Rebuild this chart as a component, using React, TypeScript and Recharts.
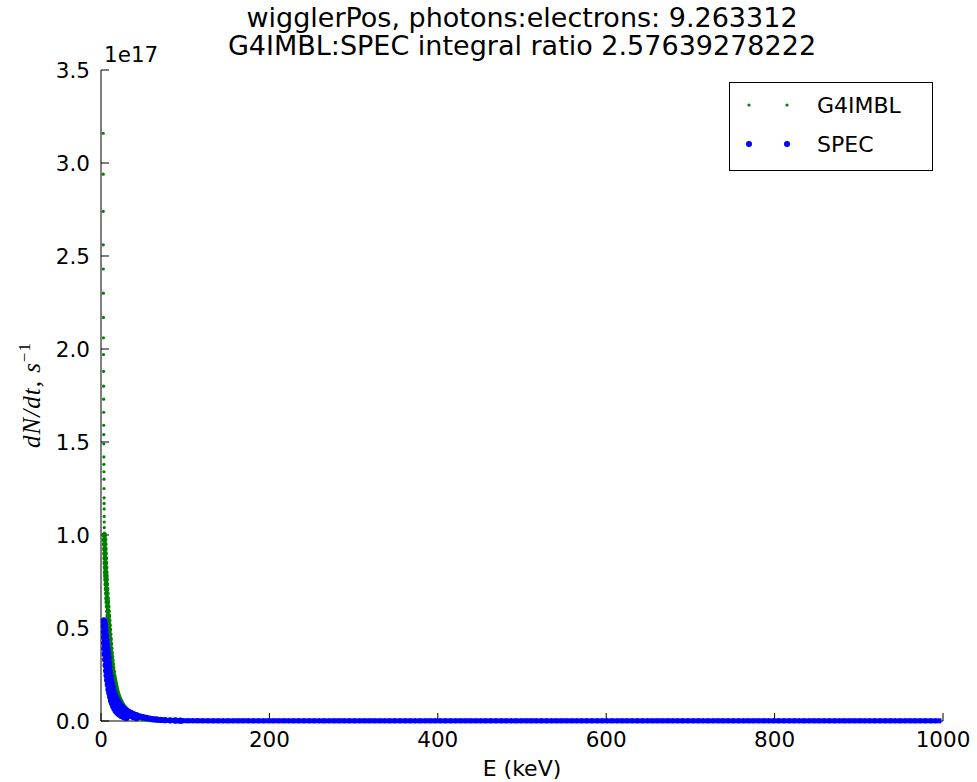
import { ScatterChart, Scatter, XAxis, YAxis, Legend } from 'recharts';

// flux values are in units of 1e17 photons/s (matches the "1e17" offset label)
const g4TopEnergy = [
  2.6, 2.65, 2.7, 2.75, 2.8, 2.85, 2.9, 2.95, 3.0, 3.05, 3.1, 3.15, 3.2, 3.25,
  3.3, 3.35, 3.4, 3.45, 3.5, 3.55, 3.6, 3.65, 3.7, 3.75, 3.8, 3.85, 3.9, 3.95,
];
const g4TopFlux = [
  3.16, 2.94, 2.74, 2.56, 2.43, 2.3, 2.17, 2.06, 1.97, 1.88, 1.8, 1.73, 1.66, 1.59,
  1.54, 1.49, 1.42, 1.38, 1.34, 1.3, 1.25, 1.2, 1.17, 1.14, 1.1, 1.07, 1.04, 1.01,
];

const g4Energy = [
  4.0, 4.2, 4.4, 4.6, 4.8, 5.0, 5.2, 5.4, 5.6, 5.8, 6.0, 6.3, 6.6, 6.9, 7.2, 7.5,
  7.9, 8.3, 8.7, 9.1, 9.5, 9.9, 10.3, 10.7, 11.1, 11.5, 11.9, 12.3, 12.8, 13.3,
  13.8, 14.4, 15.0, 15.6, 16.2, 16.9, 17.6, 18.3, 19.1, 19.9, 20.8, 21.7, 22.7,
  23.8, 25.0, 26.2, 27.5, 28.8, 30.2, 31.8, 33.5, 35.3, 37.3, 39.5, 42, 45, 48,
  51, 55, 59, 63, 67, 72, 77, 83, 89, 95,
];
const g4Flux = [
  1.0, 0.975, 0.95, 0.925, 0.9, 0.875, 0.85, 0.825, 0.8, 0.78, 0.76, 0.735, 0.71,
  0.685, 0.66, 0.64, 0.615, 0.59, 0.565, 0.54, 0.515, 0.49, 0.465, 0.44, 0.415,
  0.39, 0.365, 0.345, 0.325, 0.305, 0.285, 0.265, 0.245, 0.23, 0.215, 0.2, 0.185,
  0.17, 0.155, 0.142, 0.13, 0.12, 0.11, 0.1, 0.09, 0.081, 0.073, 0.066, 0.059,
  0.052, 0.046, 0.04, 0.035, 0.03, 0.025, 0.021, 0.017, 0.014, 0.011, 0.009,
  0.007, 0.006, 0.005, 0.004, 0.003, 0.002, 0.0015,
];

const specEnergy = [
  // low-energy edge of the band
  3.5, 3.6, 3.7, 3.8, 3.9, 4.1, 4.4, 5.0, 5.6, 6.2, 6.8, 7.4, 8.2, 9.0, 10.0, 11.0,
  12.0, 13.2, 14.5, 16, 17.5, 19.5, 21.5, 24, 27, 30,
  // middle of the band
  4.0, 4.4, 5.0, 5.8, 6.6, 7.4, 8.2, 9.0, 10.0, 11.2, 12.8, 14.1, 15.4, 16.6, 19.1,
  21.5, 24, 27, 30.5, 34.5, 38.5, 42,
  // high-energy edge of the band
  4.0, 4.6, 5.2, 5.8, 6.4, 7.0, 7.6, 8.3, 8.8, 9.3, 9.8, 10.4, 11.1, 11.9, 12.8,
  13.8, 14.9, 16.1, 17.4, 18.8, 20.0, 21.5, 23.2, 25, 27, 29.7, 32.5, 35.5, 38.5,
  42, 46, 50, 54, 58, 62, 66, 71, 76, 82, 88, 94,
];
const specFlux = [
  0.54, 0.51, 0.48, 0.45, 0.42, 0.39, 0.36, 0.33, 0.3, 0.27, 0.245, 0.22, 0.195,
  0.17, 0.15, 0.13, 0.11, 0.095, 0.08, 0.067, 0.055, 0.045, 0.036, 0.028, 0.021,
  0.016,
  0.52, 0.47, 0.43, 0.39, 0.35, 0.31, 0.27, 0.24, 0.21, 0.18, 0.15, 0.13, 0.11,
  0.095, 0.08, 0.067, 0.055, 0.045, 0.036, 0.028, 0.021, 0.016,
  0.53, 0.51, 0.485, 0.46, 0.435, 0.41, 0.39, 0.365, 0.34, 0.315, 0.29, 0.265,
  0.24, 0.22, 0.2, 0.18, 0.16, 0.143, 0.128, 0.115, 0.105, 0.094, 0.083, 0.074,
  0.066, 0.058, 0.05, 0.043, 0.037, 0.031, 0.025, 0.02, 0.016, 0.013, 0.01, 0.008,
  0.006, 0.0045, 0.0035, 0.0025, 0.0018,
];

const specTailEnergy = [
  94, 100, 106, 112, 118, 124, 130, 136, 142, 148, 154, 160, 166, 172, 178, 184,
  190, 196, 202, 208, 214, 220, 226, 232, 238, 244, 250, 256, 262, 268, 274, 280,
  286, 292, 298, 304, 310, 316, 322, 328, 334, 340, 346, 352, 358, 364, 370, 376,
  382, 388, 394, 400, 406, 412, 418, 424, 430, 436, 442, 448, 454, 460, 466, 472,
  478, 484, 490, 496, 502, 508, 514, 520, 526, 532, 538, 544, 550, 556, 562, 568,
  574, 580, 586, 592, 598, 604, 610, 616, 622, 628, 634, 640, 646, 652, 658, 664,
  670, 676, 682, 688, 694, 700, 706, 712, 718, 724, 730, 736, 742, 748, 754, 760,
  766, 772, 778, 784, 790, 796, 802, 808, 814, 820, 826, 832, 838, 844, 850, 856,
  862, 868, 874, 880, 886, 892, 898, 904, 910, 916, 922, 928, 934, 940, 946, 952,
  958, 964, 970, 976, 982, 988, 994, 1000,
];
const specTailFlux = [
  0.0018, 0.0015, 0.0014, 0.0013, 0.0012, 0.0011, 0.001, 0.001, 0.001, 0.001, 0.001,
  0.001, 0.001, 0.001, 0.001, 0.001, 0.001, 0.001, 0.001, 0.001, 0.001, 0.001,
  0.001, 0.001, 0.001, 0.001, 0.001, 0.001, 0.001, 0.001, 0.001, 0.001, 0.001,
  0.001, 0.001, 0.001, 0.001, 0.001, 0.001, 0.001, 0.001, 0.001, 0.001, 0.001,
  0.001, 0.001, 0.001, 0.001, 0.001, 0.001, 0.001, 0.001, 0.001, 0.001, 0.001,
  0.001, 0.001, 0.001, 0.001, 0.001, 0.001, 0.001, 0.001, 0.001, 0.001, 0.001,
  0.001, 0.001, 0.001, 0.001, 0.001, 0.001, 0.001, 0.001, 0.001, 0.001, 0.001,
  0.001, 0.001, 0.001, 0.001, 0.001, 0.001, 0.001, 0.001, 0.001, 0.001, 0.001,
  0.001, 0.001, 0.001, 0.001, 0.001, 0.001, 0.001, 0.001, 0.001, 0.001, 0.001,
  0.001, 0.001, 0.001, 0.001, 0.001, 0.001, 0.001, 0.001, 0.001, 0.001, 0.001,
  0.001, 0.001, 0.001, 0.001, 0.001, 0.001, 0.001, 0.001, 0.001, 0.001, 0.001,
  0.001, 0.001, 0.001, 0.001, 0.001, 0.001, 0.001, 0.001, 0.001, 0.001, 0.001,
  0.001, 0.001, 0.001, 0.001, 0.001, 0.001, 0.001, 0.001, 0.001, 0.001, 0.001,
  0.001, 0.001, 0.001, 0.001, 0.001, 0.001, 0.001, 0.001,
];

const xTicks = [0, 200, 400, 600, 800, 1000];
const yTicks = [0, 0.5, 1, 1.5, 2, 2.5, 3, 3.5];
const titleLines = [
  'wigglerPos, photons:electrons: 9.263312',
  'G4IMBL:SPEC integral ratio 2.57639278222',
];
const seriesNames = ['G4IMBL', 'SPEC'];

const GREEN = '#008000';
const BLUE = '#0000ff';
const FONT = 'DejaVu Sans';

const zip = (e: number[], v: number[]) =>
  e.slice(0, Math.min(e.length, v.length)).map((x, i) => ({ e: x, v: v[i] }));

const g4Top = zip(g4TopEnergy, g4TopFlux);
const g4 = zip(g4Energy, g4Flux);
const spec = zip(specEnergy, specFlux);
const specTail = zip(specTailEnergy, specTailFlux);

const dot = (r: number, color: string) => (props: any) =>
  <circle cx={props.cx} cy={props.cy} r={r} fill={color} />;

// densely packed markers along the zero line merge into a solid strip
const tailMark = (props: any) =>
  <rect x={props.cx - 3.5} y={props.cy - 2.5} width={7} height={5} fill={BLUE} />;

const tickStyle = { fill: '#000', fontSize: 21.5, fontFamily: FONT };

function LegendBox() {
  return (
    <svg width={204} height={89} style={{ display: 'block' }}>
      <rect x={0.5} y={0.5} width={203} height={88} fill="#fff" stroke="#000" />
      <circle cx={20} cy={23} r={1.6} fill={GREEN} />
      <circle cx={58} cy={23} r={1.6} fill={GREEN} />
      <text x={88} y={31} fontSize={22} fontFamily={FONT} fill="#000">{seriesNames[0]}</text>
      <circle cx={20} cy={62} r={3} fill={BLUE} />
      <circle cx={58} cy={62} r={3} fill={BLUE} />
      <text x={88} y={70} fontSize={22} fontFamily={FONT} fill="#000">{seriesNames[1]}</text>
    </svg>
  );
}

export default function App() {
  return (
    <div style={{ position: 'absolute', left: 0, top: 0, width: 977, height: 782, background: '#fff' }}>
      <ScatterChart width={977} height={782} margin={{ top: 70, right: 34, bottom: 31, left: 0 }}>
        <XAxis
          xAxisId="b"
          dataKey="e"
          type="number"
          domain={[0, 1000]}
          ticks={xTicks}
          interval={0}
          height={30}
          tickSize={-8}
          tickMargin={19}
          tick={tickStyle}
          tickLine={{ stroke: '#000' }}
          axisLine={{ stroke: '#000' }}
        />
        <XAxis
          xAxisId="t"
          orientation="top"
          dataKey="e"
          type="number"
          domain={[0, 1000]}
          allowDataOverflow
          ticks={xTicks}
          interval={0}
          height={0}
          tickSize={-8}
          tickFormatter={() => ''}
          tickLine={{ stroke: '#000' }}
          axisLine={{ stroke: '#000' }}
        />
        <YAxis
          yAxisId="l"
          dataKey="v"
          type="number"
          domain={[0, 3.5]}
          ticks={yTicks}
          interval={0}
          width={101}
          tickSize={-8}
          tickMargin={19}
          tick={tickStyle}
          tickFormatter={(v: number) => v.toFixed(1)}
          tickLine={{ stroke: '#000' }}
          axisLine={{ stroke: '#000' }}
        />
        <YAxis
          yAxisId="r"
          orientation="right"
          dataKey="v"
          type="number"
          domain={[0, 3.5]}
          allowDataOverflow
          ticks={yTicks}
          interval={0}
          width={0}
          tickSize={-8}
          tickFormatter={() => ''}
          tickLine={{ stroke: '#000' }}
          axisLine={{ stroke: '#000' }}
        />
        <Legend
          layout="vertical"
          align="center"
          verticalAlign="middle"
          content={() => <LegendBox />}
          wrapperStyle={{ left: 729, top: 82, width: 204, height: 89 }}
        />
        <Scatter name={seriesNames[0]} data={g4Top} xAxisId="b" yAxisId="l" fill={GREEN}
          shape={dot(1.6, GREEN)} isAnimationActive={false} />
        <Scatter name={seriesNames[0]} data={g4} xAxisId="b" yAxisId="l" fill={GREEN}
          shape={dot(2.8, GREEN)} legendType="none" isAnimationActive={false} />
        <Scatter name={seriesNames[1]} data={spec} xAxisId="b" yAxisId="l" fill={BLUE}
          shape={dot(3.2, BLUE)} isAnimationActive={false} />
        <Scatter name={seriesNames[1]} data={specTail} xAxisId="b" yAxisId="l" fill={BLUE}
          shape={tailMark} legendType="none" isAnimationActive={false} />
      </ScatterChart>

      <svg width={977} height={782} style={{ position: 'absolute', left: 0, top: 0, pointerEvents: 'none' }}>
        <text x={522} y={27} textAnchor="middle" fontSize={27} fontFamily={FONT} fill="#000">{titleLines[0]}</text>
        <text x={522} y={55} textAnchor="middle" fontSize={27} fontFamily={FONT} fill="#000">{titleLines[1]}</text>
        <text x={104} y={62} fontSize={21.5} fontFamily={FONT} fill="#000">1e17</text>
        <text x={522} y={776} textAnchor="middle" fontSize={22} fontFamily={FONT} fill="#000">E (keV)</text>
        <text
          transform="translate(40,395) rotate(-90)"
          textAnchor="middle"
          fontSize={25}
          letterSpacing={1}
          fontFamily="Liberation Serif"
          fontStyle="italic"
          fill="#000"
        >
          dN/dt, s<tspan dy={-10} fontSize={17} fontStyle="normal">−1</tspan>
        </text>
      </svg>
    </div>
  );
}
